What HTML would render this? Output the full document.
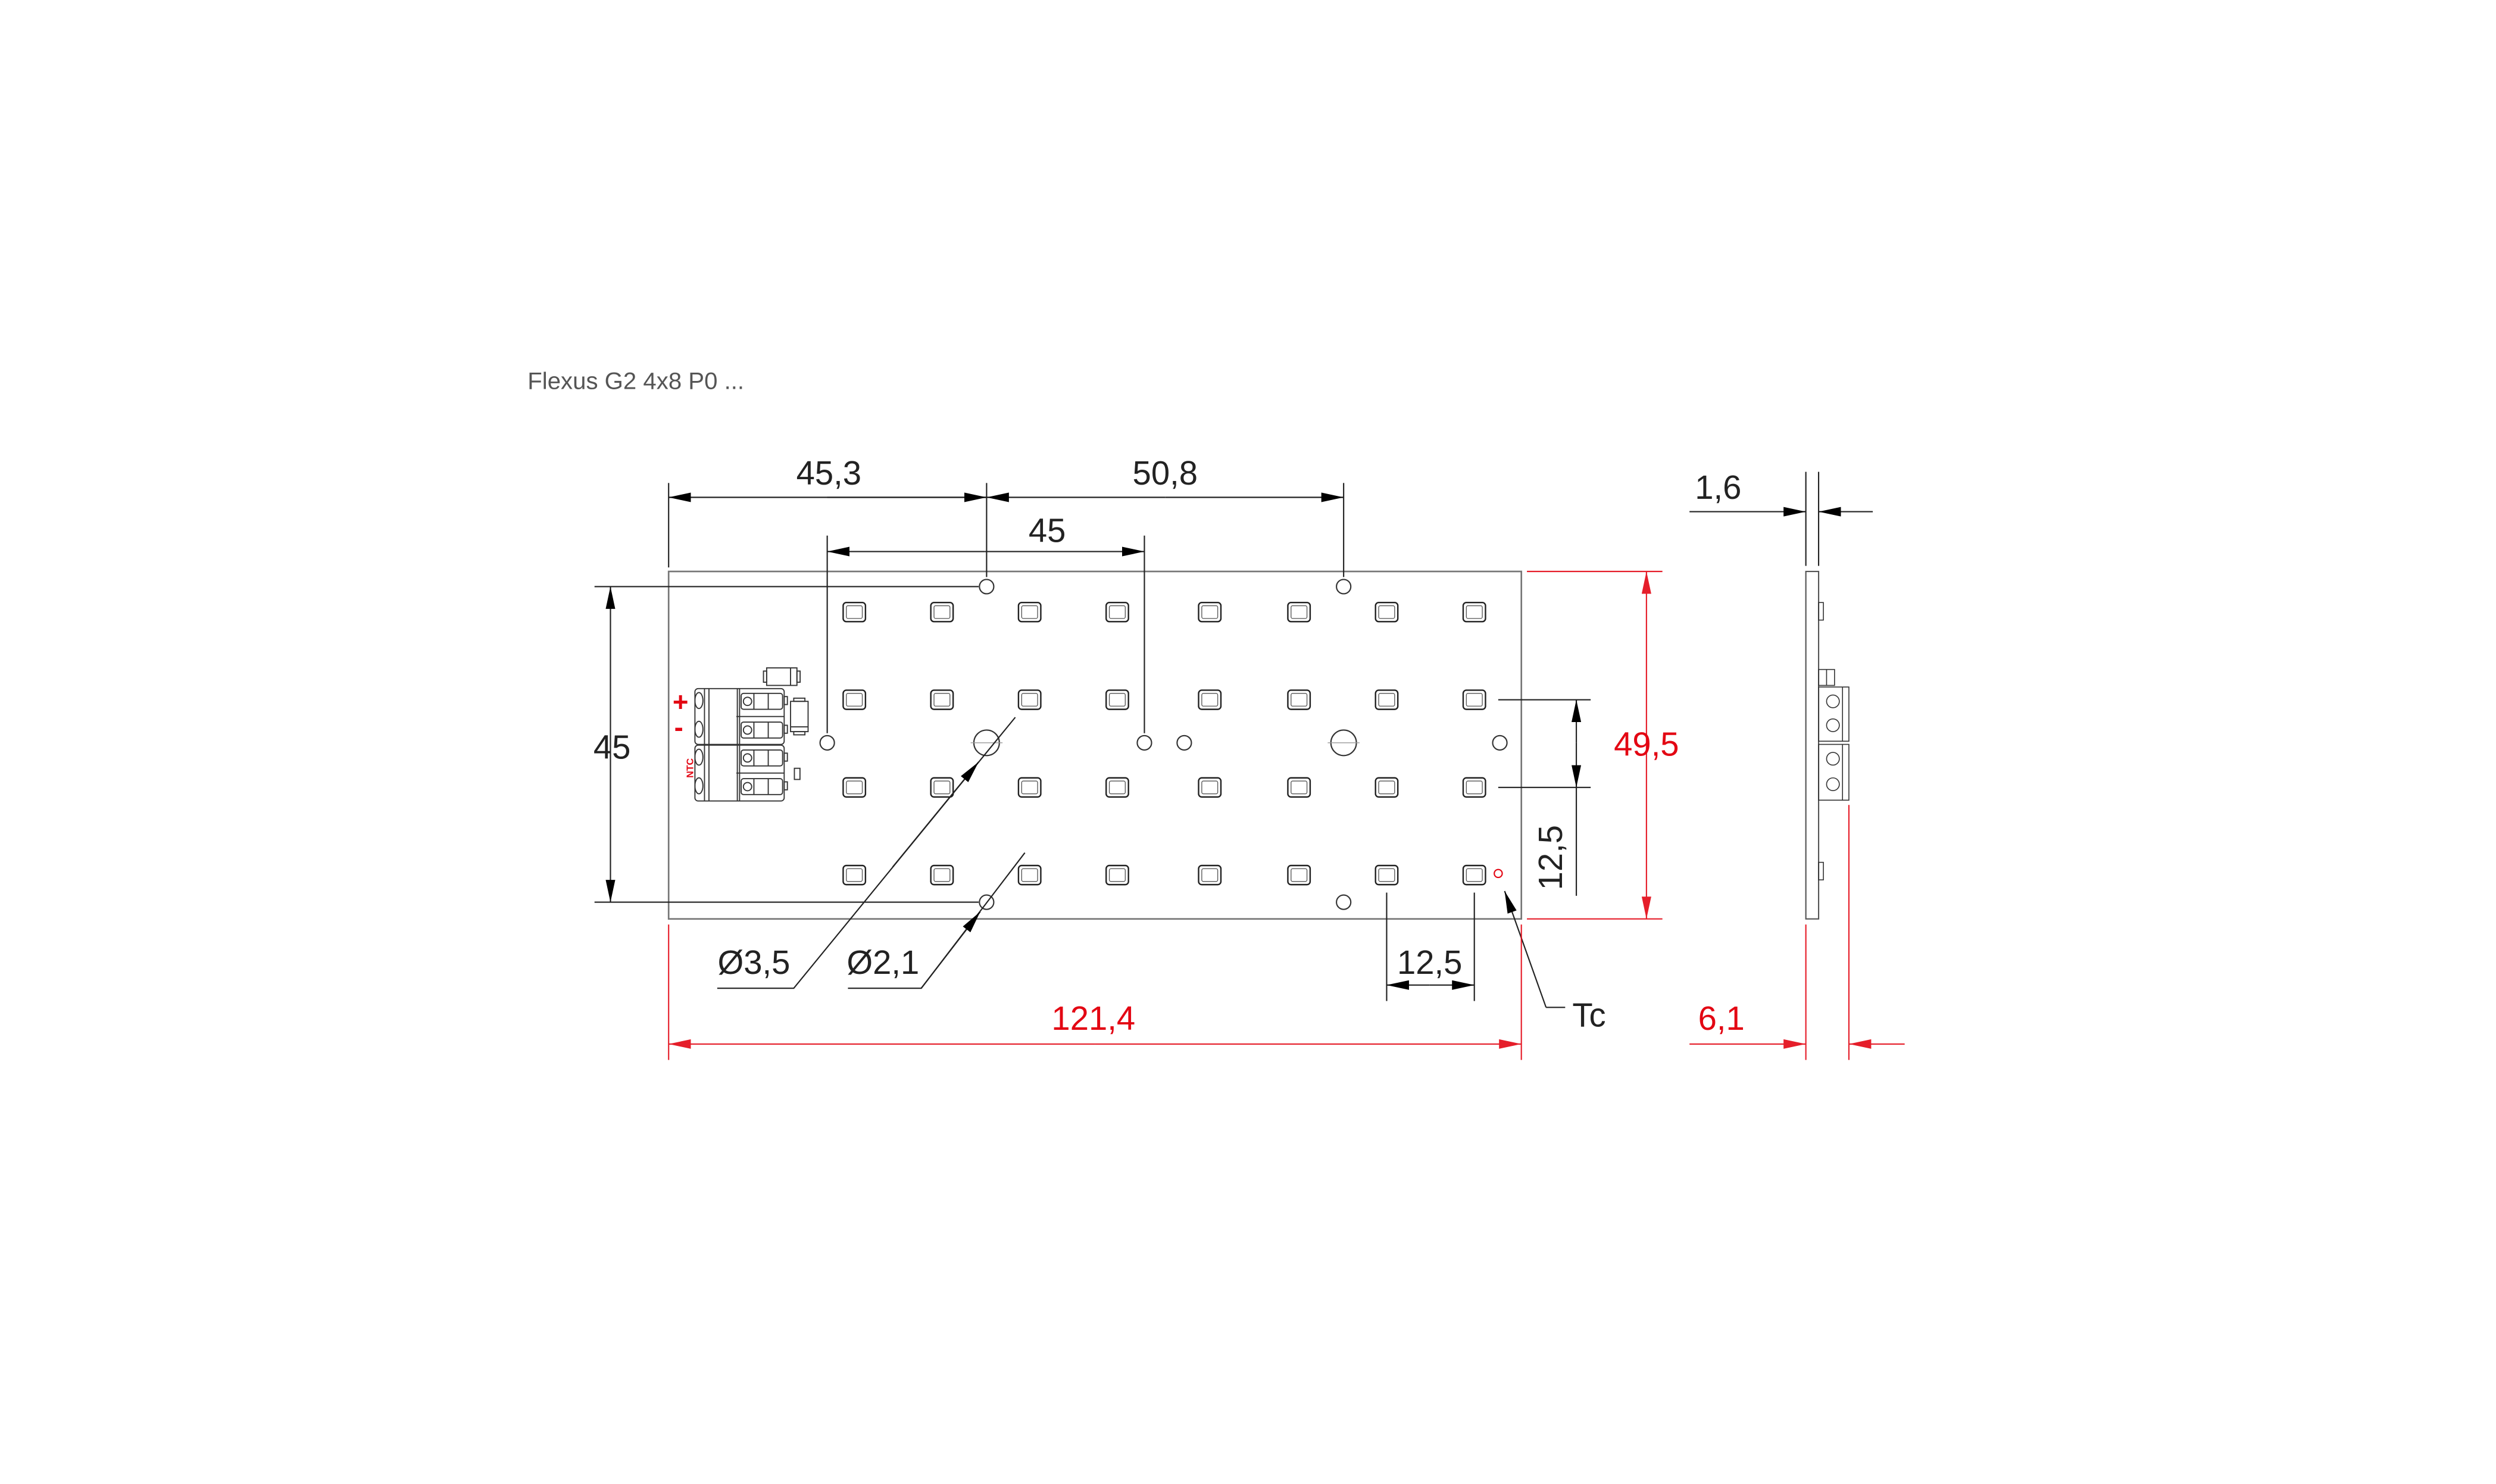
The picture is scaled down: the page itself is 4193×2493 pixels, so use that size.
<!DOCTYPE html>
<html><head><meta charset="utf-8"><style>
html,body{margin:0;padding:0;background:#fff}
svg{display:block}
text{font-family:"Liberation Sans",sans-serif}
</style></head><body>
<svg width="4193" height="2493" viewBox="0 0 1566 931" xmlns="http://www.w3.org/2000/svg">
<defs>
<marker id="a" viewBox="0 0 14 6" refX="14" refY="3" markerWidth="14" markerHeight="6" markerUnits="userSpaceOnUse" orient="auto"><path d="M0,0L14,3L0,6Z" fill="#000"/></marker>
<marker id="r" viewBox="0 0 14 6" refX="14" refY="3" markerWidth="14" markerHeight="6" markerUnits="userSpaceOnUse" orient="auto"><path d="M0,0L14,3L0,6Z" fill="#e30613"/></marker>
<g id="led"><rect x="-7" y="-6" width="14" height="12" rx="2" fill="none" stroke="#222" stroke-width="0.9"/><rect x="-5" y="-4" width="10" height="8" rx="1" fill="none" stroke="#555" stroke-width="0.5"/></g>
<g id="half" fill="none" stroke="#333" stroke-width="0.7">
<rect x="436" y="0" width="56" height="35" rx="2"/>
<line x1="442" y1="0" x2="442" y2="35"/><line x1="444.8" y1="0" x2="444.8" y2="35"/>
<line x1="462.6" y1="0" x2="462.6" y2="35"/><line x1="464" y1="0" x2="464" y2="35"/>
<ellipse cx="438.5" cy="7.5" rx="2.5" ry="5"/><ellipse cx="438.5" cy="25.5" rx="2.5" ry="5"/>
<rect x="465" y="3" width="26" height="10" rx="1.5"/><rect x="465" y="21" width="26" height="10" rx="1.5"/>
<circle cx="469" cy="8" r="2.6"/><circle cx="469" cy="26" r="2.6"/>
<line x1="473" y1="3" x2="473" y2="13"/><line x1="473" y1="21" x2="473" y2="31"/>
<line x1="482" y1="3" x2="482" y2="13"/><line x1="482" y1="21" x2="482" y2="31"/>
<line x1="462" y1="17.5" x2="492" y2="17.5"/>
<rect x="492" y="5" width="2" height="5"/><rect x="492" y="23" width="2" height="5"/>
</g>
</defs>

<text x="331" y="244" font-size="15" fill="#555">Flexus G2 4x8 P0 ...</text>

<rect x="419.5" y="358.5" width="535" height="218" fill="none" stroke="#777" stroke-width="1"/>

<g>
<use href="#led" x="536" y="384"/><use href="#led" x="591" y="384"/><use href="#led" x="646" y="384"/><use href="#led" x="701" y="384"/><use href="#led" x="759" y="384"/><use href="#led" x="815" y="384"/><use href="#led" x="870" y="384"/><use href="#led" x="925" y="384"/>
<use href="#led" x="536" y="439"/><use href="#led" x="591" y="439"/><use href="#led" x="646" y="439"/><use href="#led" x="701" y="439"/><use href="#led" x="759" y="439"/><use href="#led" x="815" y="439"/><use href="#led" x="870" y="439"/><use href="#led" x="925" y="439"/>
<use href="#led" x="536" y="494"/><use href="#led" x="591" y="494"/><use href="#led" x="646" y="494"/><use href="#led" x="701" y="494"/><use href="#led" x="759" y="494"/><use href="#led" x="815" y="494"/><use href="#led" x="870" y="494"/><use href="#led" x="925" y="494"/>
<use href="#led" x="536" y="549"/><use href="#led" x="591" y="549"/><use href="#led" x="646" y="549"/><use href="#led" x="701" y="549"/><use href="#led" x="759" y="549"/><use href="#led" x="815" y="549"/><use href="#led" x="870" y="549"/><use href="#led" x="925" y="549"/>
</g>

<g fill="none" stroke="#333" stroke-width="0.8">
<circle cx="619" cy="368" r="4.5"/><circle cx="843" cy="368" r="4.5"/>
<circle cx="519" cy="466" r="4.5"/><circle cx="718" cy="466" r="4.5"/><circle cx="743" cy="466" r="4.5"/><circle cx="941" cy="466" r="4.5"/>
<circle cx="619" cy="566" r="4.5"/><circle cx="843" cy="566" r="4.5"/>
<circle cx="619" cy="466" r="8"/><circle cx="843" cy="466" r="8"/>
</g>
<g stroke="#999" stroke-width="0.5">
<line x1="609" y1="466" x2="629" y2="466"/><line x1="833" y1="466" x2="853" y2="466"/>
</g>
<circle cx="940" cy="548" r="2.5" fill="none" stroke="#e30613" stroke-width="0.8"/>

<use href="#half" x="0" y="432"/>
<use href="#half" x="0" y="467.5"/>
<g fill="none" stroke="#333" stroke-width="0.7">
<rect x="481" y="419" width="19" height="11"/><rect x="479" y="421" width="2" height="7"/><rect x="500" y="421" width="2" height="7"/><line x1="496" y1="419" x2="496" y2="430"/>
<rect x="496" y="440" width="11" height="19"/><rect x="498" y="438" width="7" height="2"/><rect x="498" y="459" width="7" height="2"/><line x1="496" y1="456" x2="507" y2="456"/>
<rect x="498.4" y="482" width="3.5" height="7"/>
</g>
<text x="422" y="446" font-size="17" font-weight="bold" fill="#e30613">+</text>
<text x="423" y="462" font-size="17" font-weight="bold" fill="#e30613">-</text>
<text x="431" y="492" font-size="6" font-weight="bold" fill="#e30613" transform="rotate(-90 431 488)">NTC</text>

<g stroke="#222" stroke-width="0.8" fill="none">
<line x1="419.5" y1="303" x2="419.5" y2="356"/>
<line x1="619" y1="303" x2="619" y2="362"/>
<line x1="843" y1="303" x2="843" y2="362"/>
<line x1="519" y1="336" x2="519" y2="460"/>
<line x1="718" y1="336" x2="718" y2="460"/>
<line x1="619" y1="312" x2="419.5" y2="312" marker-end="url(#a)"/>
<line x1="519" y1="312" x2="619" y2="312" marker-end="url(#a)"/>
<line x1="731" y1="312" x2="619" y2="312" marker-end="url(#a)"/>
<line x1="731" y1="312" x2="843" y2="312" marker-end="url(#a)"/>
<line x1="618" y1="346" x2="519" y2="346" marker-end="url(#a)"/>
<line x1="618" y1="346" x2="718" y2="346" marker-end="url(#a)"/>
<line x1="373" y1="368" x2="614" y2="368"/>
<line x1="373" y1="566" x2="614" y2="566"/>
<line x1="383" y1="467" x2="383" y2="368" marker-end="url(#a)"/>
<line x1="383" y1="467" x2="383" y2="566" marker-end="url(#a)"/>
<line x1="940" y1="439" x2="998" y2="439"/>
<line x1="940" y1="494" x2="998" y2="494"/>
<line x1="989" y1="466" x2="989" y2="439" marker-end="url(#a)"/>
<line x1="989" y1="466" x2="989" y2="494" marker-end="url(#a)"/>
<line x1="989" y1="494" x2="989" y2="562"/>
<line x1="870" y1="560" x2="870" y2="628"/>
<line x1="925" y1="560" x2="925" y2="628"/>
<line x1="897" y1="618" x2="870" y2="618" marker-end="url(#a)"/>
<line x1="897" y1="618" x2="925" y2="618" marker-end="url(#a)"/>
<polyline points="450,620 498,620 637,450"/>
<line x1="560" y1="544" x2="614" y2="478" marker-end="url(#a)"/>
<polyline points="532,620 578,620 643,535"/>
<line x1="578" y1="620" x2="615" y2="572" marker-end="url(#a)"/>
<line x1="970" y1="632" x2="944" y2="559" marker-end="url(#a)"/>
<line x1="970" y1="632" x2="982" y2="632"/>
<line x1="1133" y1="296" x2="1133" y2="355"/>
<line x1="1141" y1="296" x2="1141" y2="355"/>
<line x1="1060" y1="321" x2="1133" y2="321" marker-end="url(#a)"/>
<line x1="1175" y1="321" x2="1141" y2="321" marker-end="url(#a)"/>
</g>

<g stroke="#e30613" stroke-width="0.8" fill="none" opacity="0.9">
<line x1="958" y1="358.5" x2="1043" y2="358.5"/>
<line x1="958" y1="576.5" x2="1043" y2="576.5"/>
<line x1="1033" y1="467" x2="1033" y2="358.5" marker-end="url(#r)"/>
<line x1="1033" y1="467" x2="1033" y2="576.5" marker-end="url(#r)"/>
<line x1="419.5" y1="580" x2="419.5" y2="665"/>
<line x1="954.5" y1="580" x2="954.5" y2="665"/>
<line x1="687" y1="655" x2="419.5" y2="655" marker-end="url(#r)"/>
<line x1="687" y1="655" x2="954.5" y2="655" marker-end="url(#r)"/>
<line x1="1133" y1="580" x2="1133" y2="665"/>
<line x1="1160" y1="505" x2="1160" y2="665"/>
<line x1="1060" y1="655" x2="1133" y2="655" marker-end="url(#r)"/>
<line x1="1195" y1="655" x2="1160" y2="655" marker-end="url(#r)"/>
</g>

<g fill="none" stroke="#555" stroke-width="0.8">
<rect x="1133" y="358.5" width="8" height="218"/>
</g>
<g fill="none" stroke="#333" stroke-width="0.6">
<rect x="1141" y="378" width="3" height="11"/>
<rect x="1141" y="541" width="3" height="11"/>
<rect x="1141" y="420" width="10" height="10"/><line x1="1146" y1="420" x2="1146" y2="430"/>
<rect x="1141" y="431" width="19" height="34"/>
<rect x="1141" y="467" width="19" height="35"/>
<ellipse cx="1150" cy="440" rx="4" ry="4"/><ellipse cx="1150" cy="455" rx="4" ry="4"/>
<ellipse cx="1150" cy="476" rx="4" ry="4"/><ellipse cx="1150" cy="492" rx="4" ry="4"/>
<line x1="1156" y1="431" x2="1156" y2="465"/><line x1="1156" y1="467" x2="1156" y2="502"/>
</g>

<g font-size="21" fill="#222" text-anchor="middle">
<text x="520" y="304">45,3</text>
<text x="731" y="304">50,8</text>
<text x="657" y="340">45</text>
<text x="384" y="476">45</text>
<text x="897" y="611">12,5</text>
<text x="473" y="611">Ø3,5</text>
<text x="554" y="611">Ø2,1</text>
<text x="997" y="644">Tc</text>
<text x="1078" y="313">1,6</text>
<text x="980" y="538" transform="rotate(-90 980 538)">12,5</text>
</g>
<g font-size="21" fill="#e30613" text-anchor="middle">
<text x="1033" y="474">49,5</text>
<text x="686" y="646">121,4</text>
<text x="1080" y="646">6,1</text>
</g>
</svg>
</body></html>
